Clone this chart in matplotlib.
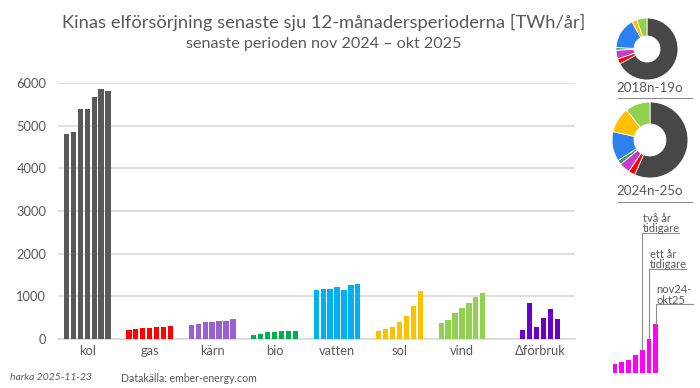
import matplotlib
matplotlib.use("Agg")
import matplotlib.pyplot as plt
import numpy as np

plt.rcParams['font.family'] = ['Lato', 'DejaVu Sans']

W, H = 700, 388

# data, TWh/year for the seven latest 12-month periods (2018n-19o .. 2024n-25o)
categories = ['kol', 'gas', 'kärn', 'bio', 'vatten', 'sol', 'vind', 'Δförbruk']
kol = [4800, 4850, 5380, 5400, 5680, 5850, 5820]
gas = [200, 230, 260, 265, 275, 285, 295]
karn = [330, 355, 390, 395, 415, 420, 470]
bio = [95, 120, 155, 170, 180, 185, 190]
vatten = [1160, 1180, 1180, 1210, 1140, 1260, 1300]
sol = [195, 235, 290, 395, 535, 785, 1125]
vind = [380, 435, 605, 730, 835, 985, 1080]
forbruk = [220, 850, 275, 490, 710, 470]
series = [kol, gas, karn, bio, vatten, sol, vind, forbruk]
bar_colors = ['#595959', '#ff0000', '#9a5fd0', '#00b050', '#00b0f0', '#ffc000', '#92d050', '#6a00c8']
group_pos = [0, 1, 2, 3, 4, 5, 6, 7.25]

pie_colors = ['#474747', '#ff0000', '#c43cc8', '#3a9a48', '#2e7ff0', '#ffc000', '#92d050']
pie_labels = ['2018n-19o', '2024n-25o']

# legend mini chart (illustrative heights)
mini_vals = [9, 11, 13, 18, 23, 34, 49]
mini_notes = ['två år\ntidigare', 'ett år\ntidigare', 'nov24-\nokt25']
mini_note_levels = [140, 104, 69]

gray = '#595959'


def box(x0, y0, x1, y1):
    return [x0 / W, 1 - y1 / H, (x1 - x0) / W, (y1 - y0) / H]


fig = plt.figure(figsize=(W / 100, H / 100), dpi=100)

# main bar chart
ax = fig.add_axes(box(57.5, 83, 575, 339))
pitch = 0.111
bw = 0.085
for g, vals, c in zip(group_pos, series, bar_colors):
    n = len(vals)
    xs = g + (np.arange(n) - (n - 1) / 2) * pitch
    ax.bar(xs, vals, width=bw, color=c, zorder=3)
ax.set_xlim(-0.476, 7.81)
ax.set_ylim(0, 6000)
ax.set_yticks(range(0, 6001, 1000))
ax.set_xticks(group_pos)
ax.set_xticklabels(categories)
ax.yaxis.grid(True, color='#d9d9d9', linewidth=1.2, zorder=0)
for s in ['top', 'right', 'left']:
    ax.spines[s].set_visible(False)
ax.spines['bottom'].set_color('#d9d9d9')
ax.spines['bottom'].set_linewidth(1.2)
ax.tick_params(length=0, colors=gray, labelsize=9.3)
ax.tick_params(axis='y', pad=8)
ax.tick_params(axis='x', pad=4)

fig.text(323.5 / W, 1 - 22 / H, 'Kinas elförsörjning senaste sju 12-månadersperioderna [TWh/år]',
         ha='center', va='center', fontsize=13.2, color=gray)
fig.text(323.5 / W, 1 - 44 / H, 'senaste perioden nov 2024 – okt 2025',
         ha='center', va='center', fontsize=11.6, color=gray)

fig.text(10 / W, 1 - 378 / H, 'harka 2025-11-23', ha='left', va='center',
         fontsize=7.5, style='italic', color=gray)
fig.text(121 / W, 1 - 378 / H, 'Datakälla: ember-energy.com', ha='left', va='center',
         fontsize=7.6, color=gray)

# donuts for first and last period
pie_boxes = [box(616, 18, 678, 80), box(612, 102, 688, 178)]
for k, pb in enumerate(pie_boxes):
    idx = 0 if k == 0 else -1
    shares = [s[idx] for s in series[:7]]
    pa = fig.add_axes(pb)
    pa.pie(shares, colors=pie_colors, startangle=90, counterclock=False,
           wedgeprops=dict(width=0.58, edgecolor='white', linewidth=0.6))
    pa.set_xlim(-1, 1)
    pa.set_ylim(-1, 1)
    pa.set_aspect('equal')
    pa.axis('off')

fig.text(650 / W, 1 - 88 / H, pie_labels[0], ha='center', va='center', fontsize=9.6, color=gray)
fig.text(650 / W, 1 - 191 / H, pie_labels[1], ha='center', va='center', fontsize=9.6, color=gray)
fig.add_artist(plt.Line2D([618 / W, 692 / W], [1 - 98 / H, 1 - 98 / H], color='#8c8c8c', lw=0.8))
fig.add_artist(plt.Line2D([618 / W, 692 / W], [1 - 202 / H, 1 - 202 / H], color='#8c8c8c', lw=0.8))

# mini explanation chart
ma = fig.add_axes(box(605, 203, 695, 373))
mx = np.arange(len(mini_vals))
ma.bar(mx, mini_vals, width=0.69, color='#ff00ff')
ma.set_xlim(-1.47, 11.76)
ma.set_ylim(0, 170)
ma.axis('off')
for j, (note, lvl) in enumerate(zip(mini_notes, mini_note_levels)):
    i = len(mini_vals) - 3 + j
    ma.plot([mx[i], mx[i], mx[i] + 5.4], [mini_vals[i], lvl, lvl], color='#8c8c8c', lw=0.8)
    ma.text(mx[i] + 0.1, lvl - 1.5, note, ha='left', va='bottom', fontsize=8,
            color=gray, linespacing=0.9)

fig.savefig('out.png', dpi=100)
